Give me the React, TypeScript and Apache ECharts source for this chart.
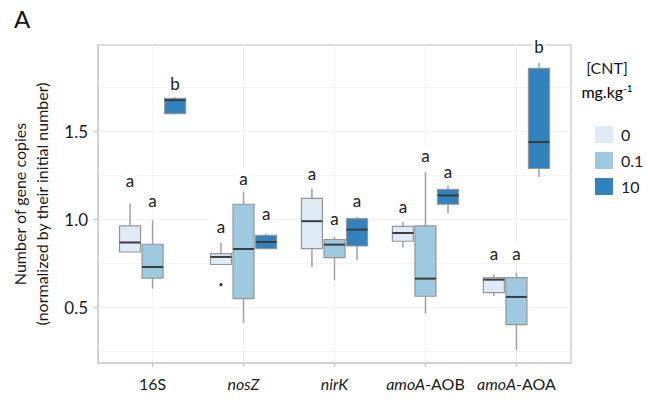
import React, { useEffect, useRef } from "react";
import * as echarts from "echarts";

const genes = ["16S", "nosZ", "nirK", "amoA-AOB", "amoA-AOA"];
const italicPart = ["", "nosZ", "nirK", "amoA", "amoA"];
const treatments = ["0", "0.1", "10"];
const colors = ["#deebf7", "#9ecae1", "#3182bd"];

// [min, Q1, median, Q3, max] for each gene
const box0 = [
  [0.814, 0.814, 0.868, 0.962, 1.089],
  [0.743, 0.743, 0.786, 0.805, 0.865],
  [0.729, 0.833, 0.989, 1.118, 1.174],
  [0.839, 0.875, 0.922, 0.96, 0.985],
  [0.564, 0.583, 0.657, 0.669, 0.688],
];
const box01 = [
  [0.606, 0.666, 0.729, 0.858, 0.994],
  [0.411, 0.549, 0.831, 1.085, 1.155],
  [0.653, 0.782, 0.856, 0.885, 0.899],
  [0.464, 0.563, 0.663, 0.962, 1.269],
  [0.256, 0.402, 0.559, 0.669, 0.695],
];
const box10 = [
  [1.594, 1.6, 1.676, 1.686, 1.693],
  [0.833, 0.833, 0.871, 0.909, 0.919],
  [0.767, 0.848, 0.941, 1.004, 1.013],
  [1.032, 1.085, 1.135, 1.17, 1.193],
  [1.24, 1.288, 1.438, 1.856, 1.888],
];

// significance letters and their heights
const letters0 = ["a", "a", "a", "a", "a"];
const letters01 = ["a", "a", "a", "a", "a"];
const letters10 = ["b", "a", "a", "a", "b"];
const letterY0 = [1.222, 0.956, 1.26, 1.074, 0.805];
const letterY01 = [1.108, 1.231, 1.004, 1.364, 0.805];
const letterY10 = [1.773, 1.032, 1.108, 1.269, 1.979];

// outliers
const outlierGene = ["nosZ"];
const outlierTreatment = ["0"];
const outlierValue = [0.629];

const yTicks = [0.5, 1.0, 1.5];

export default function App() {
  const ref = useRef<HTMLDivElement>(null);
  useEffect(() => {
    const chart = echarts.init(ref.current!, null, { renderer: "svg" });
    const font = "Lato, 'Open Sans', sans-serif";
    const boxSets = [box0, box01, box10];
    const letterSets = [letters0, letters01, letters10];
    const letterYSets = [letterY0, letterY01, letterY10];
    const OFF = 0.248;
    const W = 0.231;

    const boxSeries = treatments.map((t, ti) => ({
      type: "custom",
      name: t,
      clip: false,
      z: 3,
      itemStyle: { color: colors[ti] },
      encode: { x: 0, y: [1, 2, 3, 4, 5, 6] },
      data: genes.map((g, gi) => [gi + 1, ...boxSets[ti][gi], letterYSets[ti][gi]]),
      renderItem: (params: any, api: any) => {
        const xv = api.value(0);
        const unit = api.size([1, 0])[0];
        const w = unit * W;
        const cx = api.coord([xv, 1])[0] + (ti - 1) * unit * OFF;
        const y = (k: number) => api.coord([xv, api.value(k)])[1];
        const yMin = y(1), yQ1 = y(2), yMed = y(3), yQ3 = y(4), yMax = y(5), yL = y(6);
        const whisker = { stroke: "#a0a0a0", lineWidth: 1.5 };
        return {
          type: "group",
          children: [
            { type: "line", shape: { x1: cx, y1: yMax, x2: cx, y2: yQ3 }, style: whisker },
            { type: "line", shape: { x1: cx, y1: yQ1, x2: cx, y2: yMin }, style: whisker },
            {
              type: "rect",
              shape: { x: cx - w / 2, y: yQ3, width: w, height: yQ1 - yQ3 },
              style: { fill: colors[ti], stroke: "#959595", lineWidth: 1.2 },
            },
            {
              type: "line",
              shape: { x1: cx - w / 2, y1: yMed, x2: cx + w / 2, y2: yMed },
              style: { stroke: "#3c3c3c", lineWidth: 2 },
            },
            {
              type: "text",
              x: cx,
              y: yL,
              style: {
                text: letterSets[ti][params.dataIndex],
                fill: "#1a1a1a",
                fontSize: 17,
                fontFamily: font,
                align: "center",
                verticalAlign: "middle",
                backgroundColor: "#ffffff",
                padding: [0, 2],
              },
            },
          ],
        };
      },
    }));

    const outlierSeries = {
      type: "custom",
      name: "outliers",
      clip: false,
      z: 4,
      encode: { x: 0, y: 1 },
      data: outlierGene.map((g, i) => [
        genes.indexOf(g) + 1,
        outlierValue[i],
        treatments.indexOf(outlierTreatment[i]),
      ]),
      renderItem: (params: any, api: any) => {
        const xv = api.value(0);
        const unit = api.size([1, 0])[0];
        const p = api.coord([xv, api.value(1)]);
        const cx = p[0] + (api.value(2) - 1) * unit * OFF;
        return {
          type: "circle",
          shape: { cx, cy: p[1], r: 1.6 },
          style: { fill: "#333333" },
        };
      },
    };

    chart.setOption({
      animation: false,
      backgroundColor: "#ffffff",
      grid: {
        left: 98,
        top: 45,
        width: 473,
        height: 318,
        show: true,
        borderColor: "#cfcfcf",
        borderWidth: 1.5,
        backgroundColor: "transparent",
      },
      xAxis: {
        type: "value",
        min: 0.4,
        max: 5.6,
        axisLine: { show: true, lineStyle: { color: "#cfcfcf", width: 1.5 } },
        axisTick: {
          show: true,
          length: 4,
          lineStyle: { color: "#c0c0c0" },
          customValues: genes.map((g, i) => i + 1),
        },
        axisLabel: {
          customValues: genes.map((g, i) => i + 1),
          margin: 12,
          color: "#1a1a1a",
          fontSize: 16,
          fontFamily: font,
          formatter: (v: number) => {
            const i = Math.round(v) - 1;
            if (Math.abs(v - Math.round(v)) > 1e-6 || i < 0 || i >= genes.length) return "";
            const it = italicPart[i];
            if (!it) return genes[i];
            return "{i|" + it + "}" + genes[i].slice(it.length);
          },
          rich: { i: { fontStyle: "italic", fontSize: 16, fontFamily: font, color: "#1a1a1a" } },
        },
        splitLine: { show: true, lineStyle: { color: "#f3f3f3", width: 1 } },
      },
      yAxis: {
        type: "value",
        min: 0.184,
        max: 1.989,
        splitNumber: 4,
        axisLine: { show: true, lineStyle: { color: "#cfcfcf", width: 1.5 } },
        axisTick: { show: true, length: 4, lineStyle: { color: "#c0c0c0" }, customValues: yTicks },
        axisLabel: {
          customValues: yTicks,
          margin: 10,
          color: "#1a1a1a",
          fontSize: 17,
          fontFamily: font,
          formatter: (v: number) =>
            yTicks.some((t) => Math.abs(t - v) < 1e-6) ? v.toFixed(1) : "",
        },
        splitLine: { show: true, lineStyle: { color: "#f3f3f3", width: 1 } },
        minorTick: { show: false, splitNumber: 2 },
        minorSplitLine: { show: true, lineStyle: { color: "#f3f3f3", width: 1 } },
      },
      legend: {
        data: treatments,
        orient: "vertical",
        left: 595,
        top: 126,
        padding: 0,
        itemWidth: 18,
        itemHeight: 17,
        itemGap: 9,
        icon: "rect",
        selectedMode: false,
        textStyle: { color: "#1a1a1a", fontSize: 16, fontFamily: font, padding: [0, 0, 0, 3] },
      },
      graphic: [
        {
          type: "text",
          left: 14,
          top: 6,
          style: { text: "A", fontSize: 24, fontFamily: font, fill: "#111111" },
        },
        {
          type: "text",
          x: 30,
          y: 204,
          rotation: Math.PI / 2,
          style: {
            text: "Number of gene copies\n(normalized by their initial number)",
            fontSize: 16,
            fontFamily: font,
            fill: "#1a1a1a",
            align: "center",
            verticalAlign: "middle",
            lineHeight: 22,
          },
        },
        {
          type: "text",
          x: 607,
          y: 67,
          style: {
            text: "[CNT]",
            fontSize: 16,
            fontFamily: font,
            fill: "#1a1a1a",
            align: "center",
            verticalAlign: "middle",
          },
        },
        {
          type: "text",
          x: 607,
          y: 91,
          style: {
            text: "{n|mg.kg}{s|-1}",
            align: "center",
            verticalAlign: "middle",
            rich: {
              n: { fontSize: 16, fontFamily: font, color: "#1a1a1a" },
              s: { fontSize: 10, fontFamily: font, color: "#1a1a1a", verticalAlign: "top" },
            },
          },
        },
      ],
      series: [...boxSeries, outlierSeries],
    });
    return () => chart.dispose();
  }, []);
  return (
    <div
      ref={ref}
      style={{ position: "fixed", left: 0, top: 0, width: 648, height: 403, background: "#fff" }}
    />
  );
}
